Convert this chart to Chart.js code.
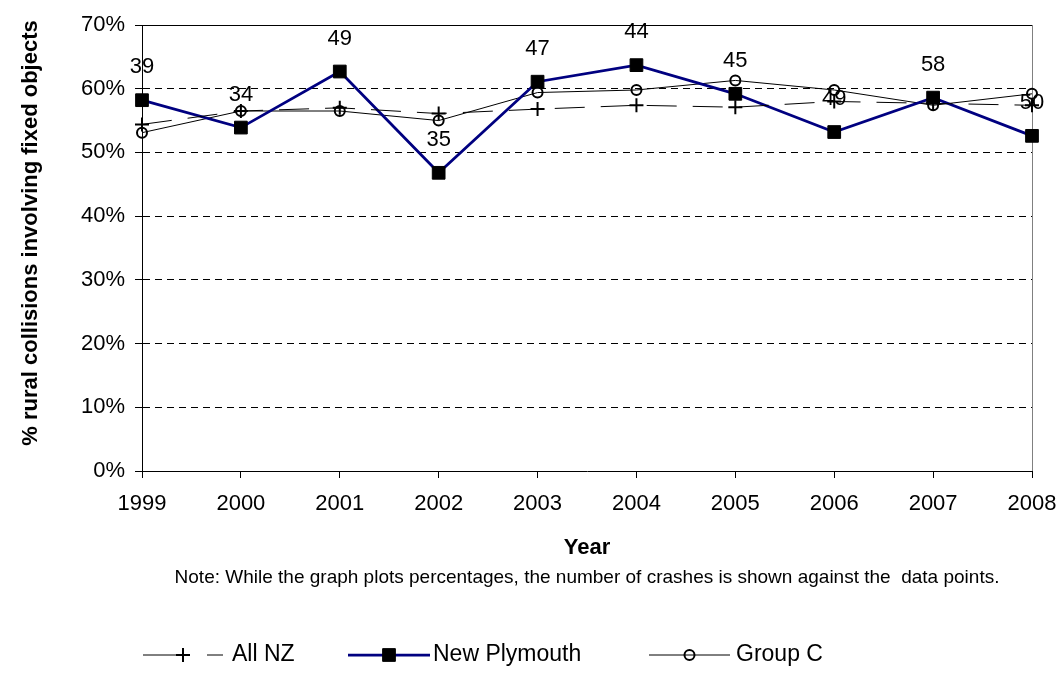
<!DOCTYPE html>
<html><head><meta charset="utf-8">
<script src="https://cdn.jsdelivr.net/npm/chart.js@4.4.1/dist/chart.umd.min.js"></script>
<style>html,body{margin:0;padding:0;background:#fff}#wrap{width:1064px;height:691px;position:relative}</style>
</head><body><div id="wrap"><canvas id="c"></canvas></div>
<script>
// ---- data ----
const years = ['1999','2000','2001','2002','2003','2004','2005','2006','2007','2008'];
const allNZ = [54.4, 56.5, 57.0, 56.1, 56.8, 57.4, 57.1, 58.0, 57.7, 57.4];
const newPlymouth = [58.2, 53.9, 62.7, 46.8, 61.1, 63.7, 59.2, 53.2, 58.6, 52.6];
const groupC = [53.1, 56.5, 56.5, 55.0, 59.4, 59.8, 61.3, 59.8, 57.4, 59.2];
const npCrashCounts = [39, 34, 49, 35, 47, 44, 45, 49, 58, 50];
const seriesNames = ['All NZ', 'New Plymouth', 'Group C'];
const yTitle = '% rural collisions involving fixed objects';
const xTitle = 'Year';
const noteText = 'Note: While the graph plots percentages, the number of crashes is shown against the  data points.';

const FAM = '"Liberation Sans", Arial, sans-serif';

function drawMarker(ctx, style, x, y, r, bw, fill, stroke) {
  ctx.save();
  ctx.lineWidth = bw; ctx.strokeStyle = stroke; ctx.fillStyle = fill;
  ctx.beginPath();
  if (style === 'cross') {
    ctx.moveTo(x - r, y); ctx.lineTo(x + r, y);
    ctx.moveTo(x, y - r); ctx.lineTo(x, y + r);
    ctx.stroke();
  } else if (style === 'rect') {
    const s = Math.SQRT1_2 * r;
    ctx.rect(x - s, y - s, 2 * s, 2 * s);
    ctx.fill(); ctx.stroke();
  } else {
    ctx.arc(x, y, r, 0, Math.PI * 2);
    ctx.fill(); ctx.stroke();
  }
  ctx.restore();
}

const framePlugin = {
  id: 'frame',
  beforeDatasetsDraw(chart) {
    const {ctx, chartArea: a} = chart;
    ctx.save();
    ctx.lineWidth = 1;
    ctx.strokeStyle = '#000';
    ctx.beginPath(); ctx.moveTo(a.left, Math.round(a.top) + 0.5); ctx.lineTo(a.right, Math.round(a.top) + 0.5); ctx.stroke();
    ctx.strokeStyle = '#808080';
    ctx.beginPath(); ctx.moveTo(Math.round(a.right) + 0.5, a.top); ctx.lineTo(Math.round(a.right) + 0.5, a.bottom); ctx.stroke();
    ctx.restore();
  }
};

const labelPlugin = {
  id: 'npLabels',
  afterDatasetsDraw(chart) {
    const {ctx} = chart;
    const meta = chart.getDatasetMeta(1);
    ctx.save();
    ctx.font = '22px ' + FAM;
    ctx.fillStyle = '#000';
    ctx.textAlign = 'center';
    ctx.textBaseline = 'middle';
    meta.data.forEach((pt, i) => {
      ctx.fillText(String(npCrashCounts[i]), pt.x, pt.y - 33);
    });
    ctx.restore();
  }
};

const textPlugin = {
  id: 'texts',
  afterDraw(chart) {
    const {ctx, chartArea: a} = chart;
    const xs = chart.scales.x;
    ctx.save();
    ctx.fillStyle = '#000';
    ctx.textAlign = 'center';
    ctx.textBaseline = 'middle';
    ctx.font = '19px ' + FAM;
    ctx.fillText(noteText, (a.left + a.right) / 2, xs.top + 107);
    // y axis title
    ctx.translate(31, (a.top + a.bottom) / 2 - 15);
    ctx.rotate(-Math.PI / 2);
    ctx.font = 'bold 22px ' + FAM;
    ctx.fillText(yTitle, 0, 0);
    ctx.restore();
  }
};

const legendLayout = { y: 655, items: [
  {x0: 143, x1: 223, tx: 232, dash: [34, 30]},
  {x0: 348, x1: 430, tx: 433, dash: []},
  {x0: 649, x1: 730, tx: 736, dash: []}
]};

const legendPlugin = {
  id: 'customLegend',
  afterDraw(chart) {
    const {ctx} = chart;
    const y = legendLayout.y;
    chart.data.datasets.forEach((ds, i) => {
      const it = legendLayout.items[i];
      ctx.save();
      ctx.strokeStyle = ds.borderColor;
      ctx.lineWidth = ds.borderWidth;
      ctx.setLineDash(it.dash);
      ctx.beginPath(); ctx.moveTo(it.x0, y); ctx.lineTo(it.x1, y); ctx.stroke();
      ctx.restore();
      drawMarker(ctx, ds.pointStyle, (it.x0 + it.x1) / 2, y, ds.pointRadius, ds.pointBorderWidth, ds.pointBackgroundColor, ds.pointBorderColor);
      ctx.save();
      ctx.font = '23px ' + FAM;
      ctx.fillStyle = '#000';
      ctx.textAlign = 'left';
      ctx.textBaseline = 'middle';
      ctx.fillText(ds.label, it.tx, y);
      ctx.restore();
    });
  }
};

new Chart(document.getElementById('c'), {
  type: 'line',
  data: {
    labels: years,
    datasets: [
      { label: seriesNames[0], data: allNZ, borderColor: '#000', borderWidth: 1, borderDash: [30, 16],
        pointStyle: 'cross', pointRadius: 7, pointBorderWidth: 2, pointBorderColor: '#000', pointBackgroundColor: '#000', fill: false, clip: false },
      { label: seriesNames[1], data: newPlymouth, borderColor: '#000080', borderWidth: 2.75,
        pointStyle: 'rect', pointRadius: 9, pointBorderWidth: 1, pointBorderColor: '#000', pointBackgroundColor: '#000', fill: false, clip: false },
      { label: seriesNames[2], data: groupC, borderColor: '#000', borderWidth: 1,
        pointStyle: 'circle', pointRadius: 5, pointBorderWidth: 2, pointBorderColor: '#000', pointBackgroundColor: 'rgba(0,0,0,0)', fill: false, clip: false }
    ]
  },
  options: {
    responsive: true, maintainAspectRatio: false, animation: false, events: [],
    layout: { padding: { top: 25, right: 32, left: 0, bottom: 0 } },
    plugins: { legend: { display: false }, tooltip: { enabled: false } },
    scales: {
      x: {
        grid: { drawOnChartArea: false, tickLength: 7, color: '#000', tickColor: '#000' },
        border: { color: '#000', width: 1 },
        ticks: { padding: 13, color: '#000', font: { family: FAM, size: 22 }, maxRotation: 0, autoSkip: false },
        title: { display: true, text: xTitle, color: '#000', font: { family: FAM, size: 22, weight: 'bold' }, padding: { top: 0, bottom: 130 } },
        afterFit(s) { s.height = 220; s.paddingRight = 0; s.paddingLeft = 0; }
      },
      y: {
        min: 0, max: 70,
        ticks: { stepSize: 10, padding: 10, color: '#000', font: { family: FAM, size: 22 }, callback: v => v + '%' },
        grid: { color: c => (c.tick && (c.tick.value === 0 || c.tick.value === 70)) ? 'rgba(0,0,0,0)' : '#000',
                tickColor: '#000', tickLength: 7, lineWidth: 1 },
        border: { color: '#000', width: 1, dash: [7, 5] },
        title: { display: false },
        afterFit(s) { s.width = 142; }
      }
    }
  },
  plugins: [framePlugin, labelPlugin, textPlugin, legendPlugin]
});
</script>
</body></html>
